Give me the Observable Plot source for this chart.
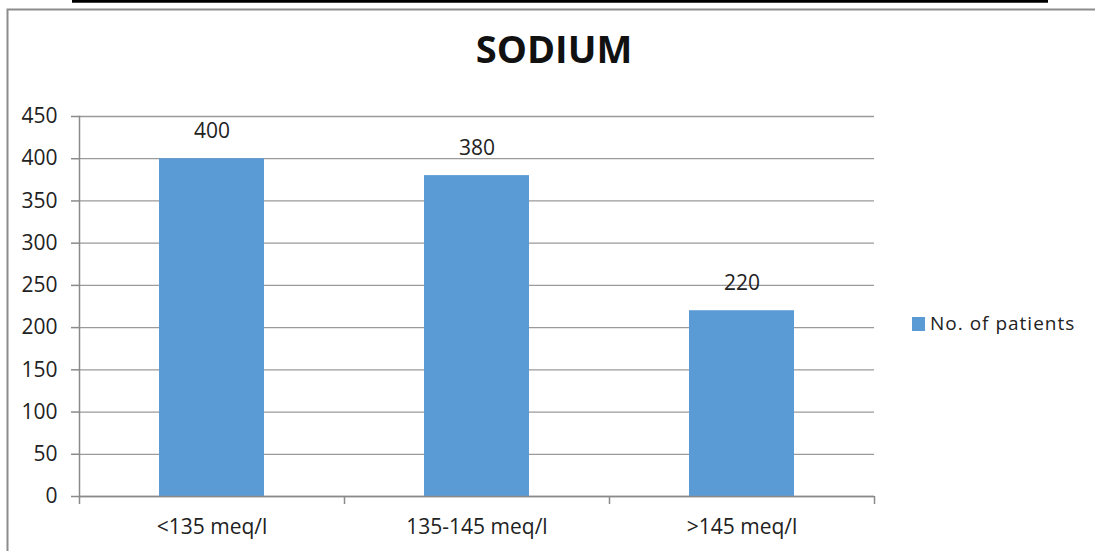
<!DOCTYPE html>
<html>
<head>
<meta charset="utf-8">
<script src="https://cdn.jsdelivr.net/npm/d3@7"></script>
<script src="https://cdn.jsdelivr.net/npm/@observablehq/plot@0.6"></script>
<style>
  html, body { margin: 0; padding: 0; background: #fff; }
  svg { display: block; }
</style>
</head>
<body>
<div id="chart"></div>
<script>
const categories = ["<135 meq/l", "135-145 meq/l", ">145 meq/l"];
const patients = [400, 380, 220];
const yTicks = [0, 50, 100, 150, 200, 250, 300, 350, 400, 450];
const seriesName = "No. of patients";
const title = "SODIUM";

const data = categories.map((c, i) => ({category: c, value: patients[i]}));
const font = "'Open Sans', sans-serif";
const barColor = "#5B9BD5";

const plot = Plot.plot({
  width: 1095,
  height: 551,
  marginLeft: 79,
  marginRight: 221,
  marginTop: 116,
  marginBottom: 55,
  style: {fontFamily: font, fontSize: "21px", color: "#222", background: "transparent", overflow: "visible"},
  x: {type: "band", domain: categories, padding: 0},
  y: {domain: [0, 450], ticks: yTicks},
  marks: [
    Plot.gridY(yTicks, {stroke: "#9a9a9a", strokeOpacity: 1, strokeWidth: 1.3}),
    Plot.barY(data, {x: "category", y: "value", fill: barColor, insetLeft: 80, insetRight: 80}),
    Plot.ruleY([0], {stroke: "#8a8a8a", strokeWidth: 1.5}),
    Plot.frame({anchor: "left", stroke: "#8a8a8a", strokeWidth: 1.5}),
    Plot.axisY(yTicks, {tickSize: 8, tickPadding: 14, stroke: "#8a8a8a", strokeWidth: 1.5, fontSize: 21, fill: "#222", label: null}),
    Plot.axisX({tickSize: 0, tickPadding: 23, fontSize: 21, fill: "#222", label: null}),
    Plot.ruleX(categories, {x: d => d, dx: -132.5, y1: 0, y2: 0, insetBottom: -8, stroke: "#8a8a8a", strokeWidth: 1.5}),
    Plot.ruleX(categories.slice(-1), {x: d => d, dx: 132.5, y1: 0, y2: 0, insetBottom: -8, stroke: "#8a8a8a", strokeWidth: 1.5}),
    Plot.text(data, {x: "category", y: "value", text: d => String(d.value), dy: -27, fontSize: 21, fill: "#222", lineAnchor: "middle"})
  ]
});

const svg = d3.select(plot);
// outer chart border
svg.append("rect")
  .attr("x", 7.5).attr("y", 9.5).attr("width", 1200).attr("height", 700)
  .attr("fill", "none").attr("stroke", "#8c8c8c").attr("stroke-width", 2);
// black line at top
svg.append("line")
  .attr("x1", 72).attr("x2", 1048).attr("y1", 1.2).attr("y2", 1.2)
  .attr("stroke", "#000").attr("stroke-width", 3);
// title
svg.append("text")
  .attr("x", 554).attr("y", 63)
  .attr("text-anchor", "middle")
  .attr("font-family", font).attr("font-weight", "bold").attr("font-size", 38)
  .attr("fill", "#111")
  .text(title);
// legend
svg.append("rect")
  .attr("x", 912).attr("y", 317).attr("width", 13).attr("height", 14)
  .attr("fill", barColor);
svg.append("text")
  .attr("x", 930).attr("y", 330)
  .attr("text-anchor", "start")
  .attr("font-family", font).attr("font-size", 19)
  .attr("letter-spacing", 1)
  .attr("fill", "#222")
  .text(seriesName);

document.getElementById("chart").appendChild(plot);
</script>
</body>
</html>
